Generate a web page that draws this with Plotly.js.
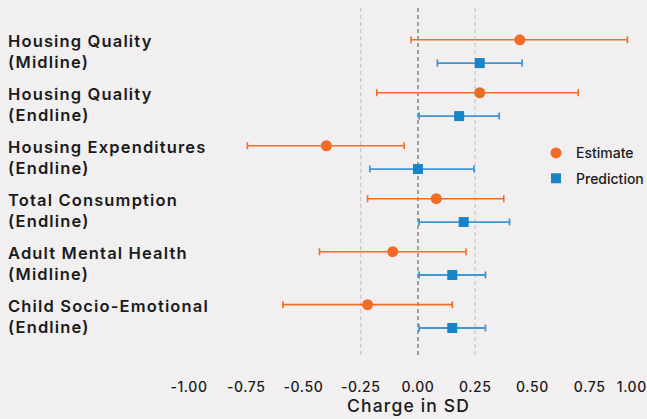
<!DOCTYPE html>
<html>
<head>
<meta charset="utf-8">
<script src="https://cdn.plot.ly/plotly-3.0.1.min.js"></script>
<style>
  html, body { margin: 0; padding: 0; background: #F1EFEF; }
  #chart { width: 647px; height: 419px; }
  #chart .annotation-text { letter-spacing: 1.15px; }
  #chart .xtick text, #chart .x2tick text { letter-spacing: 0.6px; }
</style>
</head>
<body>
<div id="chart"></div>
<script>
// ---- data ----
const outcomes = [
  "Housing Quality<br>(Midline)",
  "Housing Quality<br>(Endline)",
  "Housing Expenditures<br>(Endline)",
  "Total Consumption<br>(Endline)",
  "Adult Mental Health<br>(Midline)",
  "Child Socio-Emotional<br>(Endline)"
];
const estimate     = [0.445, 0.27, -0.40, 0.08, -0.11, -0.22];
const estimateLow  = [-0.03, -0.18, -0.745, -0.22, -0.43, -0.59];
const estimateHigh = [0.915, 0.70, -0.06, 0.375, 0.21, 0.15];
const prediction     = [0.27, 0.18, 0.00, 0.20, 0.15, 0.15];
const predictionLow  = [0.085, 0.005, -0.21, 0.005, 0.005, 0.005];
const predictionHigh = [0.455, 0.355, 0.245, 0.40, 0.295, 0.295];
const refLines = [-0.25, 0, 0.25];
const xTicks = [-1, -0.75, -0.5, -0.25, 0, 0.25, 0.5, 0.75, 1];
const xTitle = "Charge in SD";

// ---- styling ----
const ORANGE = "#F36C26";
const BLUE = "#1684C7";
const BLUE_BAR = "#3F97D4";
const TEXT = "#1b1b1b";
const BG = "#F1EFEF";
const FONT = "Inter, 'Open Sans', sans-serif";
const OFFSET_EST = 0.23;
const OFFSET_PRED = 0.21;
const X_RANGE = [-1.0, 1.0005];

const idx = outcomes.map((_, i) => i);

const traces = [
  {
    type: "scatter", mode: "markers", name: "Estimate",
    x: estimate, y: idx.map(i => i - OFFSET_EST),
    marker: { symbol: "circle", size: 11, color: ORANGE },
    error_x: {
      type: "data", symmetric: false,
      array: estimate.map((v, i) => estimateHigh[i] - v),
      arrayminus: estimate.map((v, i) => v - estimateLow[i]),
      color: ORANGE, thickness: 1.6, width: 3.5
    },
    legendgroup: "a", hoverinfo: "skip"
  },
  {
    type: "scatter", mode: "markers", name: "Prediction",
    x: prediction, y: idx.map(i => i + OFFSET_PRED),
    marker: { symbol: "square", size: 10, color: BLUE },
    error_x: {
      type: "data", symmetric: false,
      array: prediction.map((v, i) => predictionHigh[i] - v),
      arrayminus: prediction.map((v, i) => v - predictionLow[i]),
      color: BLUE_BAR, thickness: 1.8, width: 3.5
    },
    legendgroup: "b", hoverinfo: "skip"
  },
  // empty trace so the overlaid label axis is drawn
  { type: "scatter", mode: "markers", x: [], y: [], xaxis: "x2", yaxis: "y", showlegend: false, hoverinfo: "skip" }
];

const L = 189, W = 458;

const shapes = refLines.map(v => ({
  type: "line", xref: "x", yref: "paper", x0: v, x1: v, y0: 0, y1: 1,
  line: { color: v === 0 ? "#8c8c8c" : "#c6c6c6", width: v === 0 ? 1.6 : 1.2, dash: "4px,3px" },
  layer: "below"
}));

const annotations = outcomes.map((t, i) => ({
  xref: "paper", yref: "y", x: (6 - L) / W, y: i, xanchor: "left", yanchor: "middle",
  text: t, align: "left", showarrow: false,
  font: { family: FONT, size: 16.5, color: TEXT, weight: 600 }
}));
annotations.push({
  xref: "paper", yref: "paper", x: (408 - L) / W, y: (355 - 406) / 347,
  xanchor: "center", yanchor: "middle", text: xTitle, showarrow: false,
  font: { family: FONT, size: 17.5, color: TEXT, weight: 500 }
});

const innerTicks = xTicks.filter(v => v < 1);
const edgeTicks = xTicks.filter(v => v >= 1);
const tickFont = { family: FONT, size: 14, color: TEXT, weight: 500 };

const layout = {
  width: 647, height: 419,
  paper_bgcolor: BG, plot_bgcolor: BG,
  margin: { l: L, r: 0, t: 8, b: 64, autoexpand: false },
  showlegend: true,
  legend: {
    x: (556 - 20 - L) / W, xanchor: "left", y: 0.545, yanchor: "middle",
    bgcolor: "rgba(0,0,0,0)", tracegroupgap: 4,
    font: { family: FONT, size: 14, color: TEXT, weight: 500 }
  },
  xaxis: {
    range: X_RANGE, showgrid: false, zeroline: false, showline: false,
    tickvals: innerTicks, ticktext: innerTicks.map(v => v.toFixed(2)),
    ticks: "", ticklabelstandoff: 22,
    tickfont: tickFont
  },
  // same scale as xaxis; only carries the last tick label, right-aligned to its tick so it stays on the page
  xaxis2: {
    overlaying: "x", anchor: "y", side: "bottom",
    range: X_RANGE, showgrid: false, zeroline: false, showline: false,
    tickvals: edgeTicks, ticktext: edgeTicks.map(v => v.toFixed(2)),
    ticks: "", ticklabelstandoff: 22, ticklabelposition: "outside left",
    ticklabeloverflow: "allow",
    tickfont: tickFont
  },
  yaxis: {
    range: [5.72, -0.83], showgrid: false, zeroline: false, showline: false,
    showticklabels: false, ticks: ""
  },
  shapes: shapes,
  annotations: annotations
};

Plotly.newPlot("chart", traces, layout, { displayModeBar: false, staticPlot: true });
</script>
</body>
</html>
